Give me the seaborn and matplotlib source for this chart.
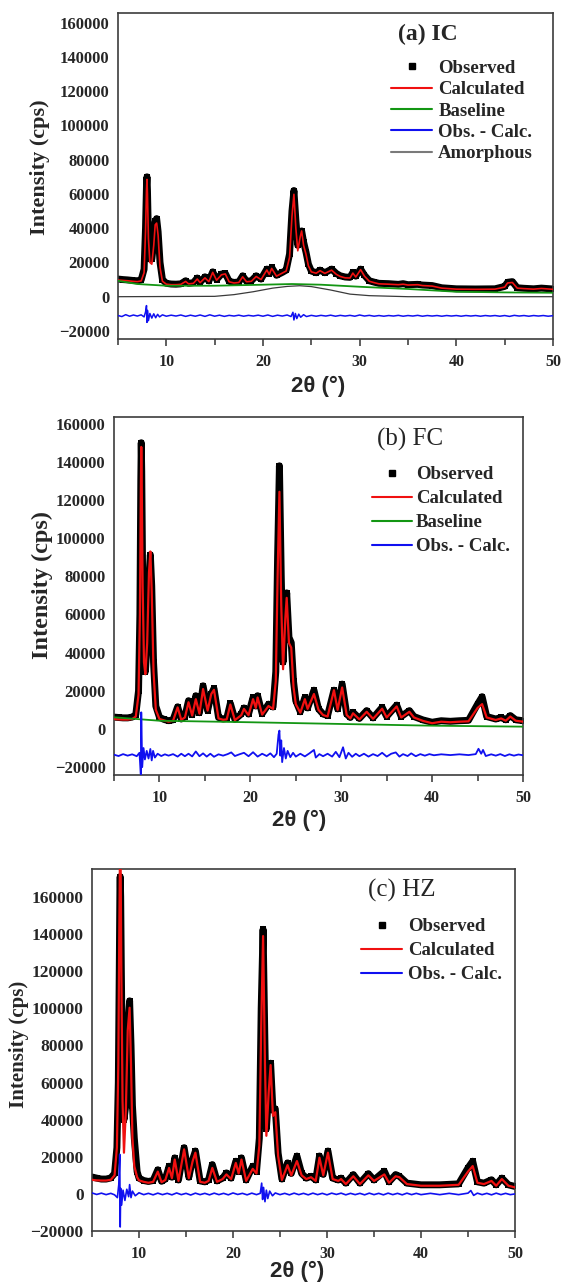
import numpy as np
import seaborn as sns
import matplotlib.pyplot as plt
from matplotlib.lines import Line2D
from matplotlib.ticker import FixedLocator

sns.set_style("ticks")
plt.rcParams['font.family'] = ['Liberation Serif', 'DejaVu Serif']

# ---------------- panel (a) IC ----------------
x_a = [5.0, 5.5, 6.0, 6.5, 7.0, 7.4, 7.7, 7.85, 7.95, 8.0, 8.05, 8.15, 8.3, 8.5, 8.7, 8.85, 9.0,
       9.15, 9.35, 9.6, 10.0, 10.5, 11.0, 11.5, 12.0, 12.3, 12.8, 13.2, 13.5, 14.0, 14.4, 14.8,
       15.2, 15.7, 16.1, 16.5, 17.0, 17.5, 17.9, 18.3, 18.8, 19.3, 19.8, 20.4, 20.65, 20.9, 21.4,
       22.0, 22.4, 22.75, 23.0, 23.2, 23.4, 23.6, 23.85, 24.0, 24.2, 24.45, 24.7, 25.0, 25.5,
       25.9, 26.4, 27.1, 27.6, 28.0, 28.5, 29.0, 29.3, 29.6, 30.1, 30.5, 31.0, 31.5, 32.0, 33.0,
       34.0, 34.5, 35.0, 36.0, 36.5, 37.5, 38.5, 40.0, 42.0, 44.0, 45.0, 45.3, 45.8, 46.3, 47.0,
       48.0, 48.8, 50.0]
obs_a = [10300, 10000, 9800, 9500, 9300, 9800, 16000, 40000, 65000, 70000, 62000, 35000, 22000,
         22000, 32000, 44000, 45600, 38000, 20000, 10000, 7800, 7400, 7300, 7500, 9300, 7800, 8200,
         10900, 8500, 11600, 9200, 14500, 10000, 13200, 13600, 9000, 8300, 8600, 12200, 9000, 9300,
         12200, 10300, 16100, 13500, 17100, 12500, 14200, 15500, 25000, 50000, 62000, 45000, 30000,
         36000, 38400, 32000, 26000, 19000, 15000, 14000, 15500, 14000, 16100, 13500, 12200, 11500,
         11300, 14200, 12000, 16100, 12500, 9300, 8500, 7800, 7600, 7200, 7600, 7000, 7200, 6800,
         6500, 5200, 4600, 4500, 4600, 6000, 8400, 8800, 5200, 4900, 4600, 5000, 4500]
calc_a = [9700, 9500, 9300, 9000, 8800, 9200, 14000, 38000, 62000, 68500, 60000, 34000, 20000,
          19000, 30000, 42000, 43000, 36000, 17000, 9000, 7300, 7000, 7000, 7200, 8900, 7500, 7800,
          10300, 8200, 11000, 8800, 14200, 9600, 12800, 13300, 8700, 8000, 8300, 11600, 8700, 9000,
          11800, 10000, 15600, 13000, 16500, 12000, 13800, 15000, 23000, 47000, 59800, 40000, 26800,
          35000, 38400, 30000, 24800, 18000, 14500, 13700, 15200, 13600, 15500, 13000, 11800, 11000,
          10900, 13800, 11500, 15800, 12000, 9000, 8200, 7500, 7300, 7000, 7300, 6800, 7000, 6500,
          6200, 5000, 4400, 4300, 4400, 5600, 8000, 8300, 5000, 4700, 4400, 4800, 4300]
base_x_a = [5, 7, 10, 15, 20, 23, 26, 30, 35, 40, 45, 50]
base_a = [9300, 7400, 6400, 6400, 7000, 7400, 7000, 5800, 4500, 2900, 2500, 2300]
amor_x_a = [5, 15, 17, 19, 21, 22.5, 23.8, 25, 27, 29, 31, 35, 50]
amor_a = [0, 200, 1200, 2900, 5000, 6000, 6400, 5900, 3900, 1500, 600, 0, 0]
diff_x_a = [5.0, 5.4, 5.8, 6.2, 6.6, 7.0, 7.4, 7.7, 7.85, 7.95, 8.0, 8.05, 8.15, 8.3, 8.5, 8.7,
            8.9, 9.1, 9.3, 9.6, 10.0, 10.5, 11.0, 11.5, 12.0, 12.5, 13.0, 13.5, 14.0, 14.5, 15.0,
            15.5, 16.0, 16.5, 17.0, 17.5, 18.0, 18.5, 19.0, 19.5, 20.0, 20.5, 21.0, 21.5, 22.0,
            22.5, 22.9, 23.1, 23.2, 23.35, 23.5, 23.7, 23.9, 24.2, 24.5, 25.0, 25.5, 26.0, 26.5,
            27.0, 27.5, 28.0, 28.5, 29.0, 29.5, 30.0, 30.5, 31.0, 31.5, 32.0, 32.5, 33.0, 33.5,
            34.0, 34.5, 35.0, 35.5, 36.0, 36.5, 37.0, 37.5, 38.0, 38.5, 39.0, 39.5, 40.0, 40.5,
            41.0, 41.5, 42.0, 42.5, 43.0, 43.5, 44.0, 44.5, 45.0, 45.5, 46.0, 46.5, 47.0, 47.5,
            48.0, 48.5, 49.0, 49.5, 50.0]
diff_a = [-11000, -11600, -10500, -11400, -10700, -11300, -10600, -11800, -9000, -5200, -15000,
          -8000, -14000, -9800, -12500, -10000, -12300, -10300, -11800, -10600, -11400, -10800,
          -11300, -10700, -11500, -10800, -11400, -10700, -11500, -10600, -11400, -10800, -11500,
          -10900, -11300, -10800, -11400, -10900, -11300, -10800, -11400, -10700, -11500, -10800,
          -11300, -10700, -11600, -9100, -13600, -9800, -12800, -10200, -12000, -10500, -11600,
          -10900, -11400, -10900, -11300, -10800, -11400, -10900, -11300, -10900, -11400, -10700,
          -11300, -10900, -11400, -11000, -11400, -11000, -11300, -10900, -11400, -11000, -11300,
          -10900, -11400, -11000, -11300, -11000, -11400, -11000, -11300, -11000, -11400, -11000,
          -11300, -11000, -11400, -11000, -11300, -11000, -11400, -11000, -11500, -10900, -11300,
          -11000, -11400, -11000, -11300, -11000, -11400, -11100]

# ---------------- panel (b) FC ----------------
x_b = [5.0, 5.5, 6.0, 6.5, 7.0, 7.4, 7.7, 7.85, 7.95, 8.0, 8.05, 8.15, 8.3, 8.45, 8.65, 8.85,
       9.0, 9.15, 9.35, 9.6, 10.0, 10.5, 11.0, 11.5, 12.0, 12.4, 12.8, 13.2, 13.6, 14.0, 14.4,
       14.8, 15.3, 15.7, 16.0, 16.5, 17.0, 17.4, 17.8, 18.3, 19.0, 19.3, 19.8, 20.3, 20.6, 20.8,
       21.3, 22.0, 22.5, 22.8, 23.0, 23.2, 23.4, 23.6, 23.85, 24.0, 24.25, 24.5, 24.75, 25.0,
       25.5, 26.0, 26.3, 27.0, 27.5, 28.0, 28.5, 29.2, 29.6, 30.1, 30.6, 31.0, 31.3, 32.0, 32.8,
       33.5, 34.5, 35.0, 36.1, 36.6, 37.5, 38.0, 39.0, 40.0, 41.0, 42.0, 43.0, 44.0, 45.0, 45.5,
       46.0, 47.0, 47.6, 48.1, 48.6, 49.2, 50.0]
obs_b = [6200, 6000, 5800, 5800, 6200, 7500, 20000, 60000, 130000, 150000, 135000, 80000, 40000,
         30000, 45000, 80000, 91300, 75000, 35000, 12000, 6100, 5000, 4300, 4800, 11600, 5200,
         6500, 14800, 7500, 17400, 8500, 22600, 9600, 18300, 21200, 6000, 5200, 5500, 13400, 5000,
         7800, 11000, 7800, 16500, 12000, 17400, 8000, 13000, 11500, 30000, 90000, 137900, 80000,
         35000, 60000, 71300, 48000, 45200, 25000, 14800, 9000, 16500, 11000, 20300, 10500, 7800,
         7000, 20300, 10500, 23500, 7800, 6000, 8700, 5500, 9600, 5800, 11300, 6500, 12500, 6500,
         9600, 6500, 4700, 3500, 4300, 4000, 4300, 4500, 13000, 16900, 6500, 5200, 6000, 4800,
         7000, 4800, 4300]
calc_b = [5200, 5000, 4900, 4900, 5200, 6500, 18000, 60000, 125000, 147800, 130000, 75000, 35000,
          28700, 45000, 82000, 93000, 72000, 30000, 10000, 5200, 4500, 3800, 4300, 11300, 4800,
          6000, 14000, 7000, 15600, 8000, 20900, 9600, 18300, 20500, 5500, 4800, 5000, 12800, 4600,
          7200, 10500, 7200, 15600, 11000, 16500, 7500, 12000, 10500, 25000, 80000, 124300, 65000,
          31300, 58000, 68700, 45000, 42600, 22000, 13000, 8500, 15600, 10500, 18300, 10000, 7300,
          6500, 20300, 10000, 21700, 7300, 5500, 8200, 5000, 9000, 5300, 10600, 6000, 11800, 6000,
          9000, 6000, 4200, 3000, 3800, 3500, 3800, 4000, 11000, 13000, 6000, 4700, 5500, 4300,
          6500, 4300, 3800]
base_x_b = [5, 10, 20, 30, 40, 50]
base_b = [6100, 4300, 3500, 2600, 1700, 1200]
diff_x_b = [5.0, 5.5, 6.0, 6.5, 7.0, 7.5, 7.8, 7.9, 7.95, 8.0, 8.05, 8.1, 8.25, 8.4, 8.6, 8.8,
            9.0, 9.15, 9.3, 9.5, 9.8, 10.2, 10.6, 11.0, 11.5, 12.0, 12.4, 12.8, 13.2, 13.6, 14.0,
            14.4, 14.8, 15.2, 15.6, 16.0, 16.5, 17.0, 17.5, 17.9, 18.3, 18.8, 19.3, 19.8, 20.3,
            20.8, 21.3, 21.8, 22.2, 22.6, 22.9, 23.1, 23.2, 23.3, 23.4, 23.5, 23.7, 23.9, 24.1,
            24.4, 24.7, 25.0, 25.5, 26.0, 26.5, 27.0, 27.2, 27.6, 28.0, 28.5, 29.0, 29.4, 29.8,
            30.2, 30.5, 30.8, 31.2, 31.6, 32.0, 32.5, 33.0, 33.5, 34.0, 34.5, 35.0, 35.5, 36.0,
            36.4, 36.8, 37.3, 37.7, 38.2, 38.7, 39.2, 39.7, 40.2, 41.0, 42.0, 43.0, 44.0, 44.8,
            45.1, 45.4, 45.6, 45.9, 46.5, 47.0, 47.5, 48.0, 48.5, 49.0, 49.5, 50.0]
diff_b = [-13500, -14200, -13200, -14000, -13300, -14300, -12500, -20000, -23800, 8700, -5000,
          -20000, -10000, -16000, -11500, -15500, -10500, -16500, -11500, -15000, -13000, -14200,
          -13300, -14000, -13200, -14500, -13000, -14300, -13000, -14400, -11800, -14300, -12800,
          -14500, -13000, -14600, -13300, -14000, -13200, -12300, -14200, -13300, -12500, -14300,
          -12200, -14500, -13000, -14200, -12800, -14800, -13000, -3000, -870, -14000, -6000,
          -17400, -10000, -15500, -11500, -14800, -12500, -14500, -13000, -14400, -12800, -11000,
          -15000, -13200, -14300, -13000, -14500, -12000, -14800, -9600, -15500, -12500, -14600,
          -13000, -14300, -13000, -14500, -13200, -14200, -12500, -14500, -13000, -12300, -14500,
          -13200, -14200, -12800, -14300, -13200, -14000, -13200, -13800, -13300, -13700, -13300,
          -13700, -13200, -10400, -13000, -11000, -14200, -13300, -14000, -13200, -14200, -13300,
          -14000, -13400, -13800]

# ---------------- panel (c) HZ ----------------
x_c = [5.0, 5.5, 6.0, 6.5, 7.0, 7.4, 7.65, 7.8, 7.9, 7.97, 8.0, 8.05, 8.12, 8.25, 8.4, 8.6, 8.8,
       9.0, 9.15, 9.3, 9.5, 9.8, 10.0, 10.5, 11.0, 11.5, 12.0, 12.4, 12.8, 13.2, 13.5, 13.8, 14.2,
       14.8, 15.3, 15.7, 16.0, 16.5, 17.0, 17.4, 17.8, 18.3, 18.9, 19.3, 19.8, 20.3, 20.6, 20.9,
       21.4, 22.1, 22.5, 22.8, 23.0, 23.2, 23.4, 23.55, 23.8, 24.0, 24.25, 24.5, 24.8, 25.2, 25.8,
       26.2, 26.8, 27.3, 27.8, 28.3, 28.8, 29.2, 29.6, 30.1, 30.6, 31.2, 31.5, 32.0, 32.8, 33.5,
       34.4, 35.0, 36.1, 36.6, 37.3, 37.7, 38.5, 40.0, 42.0, 44.0, 45.0, 45.5, 46.0, 46.7, 47.5,
       48.0, 48.6, 49.3, 50.0]
obs_c = [9100, 8500, 8000, 8000, 8600, 11000, 25000, 60000, 120000, 165000, 170900, 160000,
         120000, 60000, 40000, 48000, 90000, 104000, 80000, 47600, 30000, 12000, 8500, 7200, 6700,
         7200, 13000, 6800, 8000, 14900, 9000, 19400, 7500, 24900, 9000, 18500, 23100, 7000, 6500,
         7500, 15800, 7000, 8500, 11300, 8500, 17600, 12000, 19400, 7500, 14900, 12000, 30000,
         100000, 142500, 80000, 35000, 55000, 70400, 45000, 45800, 22000, 8000, 16700, 11000,
         20400, 11000, 8500, 9500, 7500, 20400, 10500, 23100, 8500, 7500, 8500, 5800, 10400, 5800,
         10900, 7500, 12200, 6500, 10400, 9500, 5800, 4900, 4900, 5400, 14000, 17600, 6500, 5800,
         7600, 4900, 8500, 4900, 4000]
calc_c = [7600, 7300, 7200, 7200, 7600, 10000, 25000, 70000, 140000, 180000, 185000, 175000,
          120000, 50000, 22200, 45000, 88000, 100300, 70000, 30000, 15000, 9000, 7300, 6500, 6000,
          6500, 12000, 6300, 7500, 14000, 8500, 18500, 7000, 24000, 8500, 17500, 22200, 6500, 6000,
          7000, 14000, 6500, 8000, 10500, 8000, 16700, 11000, 18500, 7000, 13500, 11000, 26000,
          90000, 138900, 70000, 31300, 55000, 69400, 42000, 44000, 20400, 7500, 15500, 10000,
          17700, 10000, 8000, 9000, 7000, 19500, 10000, 22200, 8000, 7000, 8000, 5300, 9500, 5300,
          10000, 7000, 10500, 6000, 9500, 9000, 5300, 4400, 4400, 4900, 12000, 15000, 6000, 5300,
          7000, 4400, 8000, 4400, 3500]
diff_x_c = [5.0, 5.5, 6.0, 6.5, 7.0, 7.4, 7.7, 7.85, 7.95, 8.0, 8.05, 8.15, 8.3, 8.5, 8.7, 8.9,
            9.0, 9.15, 9.3, 9.6, 10.0, 10.5, 11.0, 11.5, 12.0, 12.5, 13.0, 13.5, 14.0, 14.5, 15.0,
            15.5, 16.0, 16.5, 17.0, 17.5, 18.0, 18.5, 19.0, 19.5, 20.0, 20.5, 21.0, 21.5, 22.0,
            22.5, 22.9, 23.05, 23.15, 23.25, 23.4, 23.55, 23.7, 23.9, 24.2, 24.5, 25.0, 25.5, 26.0,
            26.5, 27.0, 27.5, 28.0, 28.5, 29.0, 29.5, 30.0, 30.5, 31.0, 31.5, 32.0, 32.5, 33.0,
            33.5, 34.0, 34.5, 35.0, 35.5, 36.0, 36.5, 37.0, 37.5, 38.0, 38.5, 39.0, 39.5, 40.0,
            41.0, 42.0, 43.0, 44.0, 45.0, 45.3, 45.6, 46.0, 46.5, 47.0, 47.5, 48.0, 48.5, 49.0,
            49.5, 50.0]
diff_c = [500, -300, 400, -400, 300, -500, -2000, 5000, 21300, -17800, 3000, -6000, 2000, -3500,
          2500, -1500, 5000, -2000, 1500, -1000, 600, -400, 300, -500, 400, -400, 300, -500, 500,
          -400, 300, -600, 400, -400, 300, -500, 400, -400, 300, -500, 500, -300, 300, -500, 400,
          -400, 300, 5800, -3000, 3500, -4200, 2000, -2500, 1500, -1000, 500, -400, 300, -500, 400,
          -400, 300, -500, 400, -400, 300, -500, 400, -300, 400, -500, 300, -400, 300, -500, 400,
          -400, 300, -500, 400, -400, 300, -500, 400, -400, 300, -400, 300, -400, 300, -400, 400,
          1800, -800, 400, -400, 300, -500, 400, -400, 300, -400, 0]

y_ticks = [-20000, 0, 20000, 40000, 60000, 80000, 100000, 120000, 140000, 160000]
x_ticks = [10, 20, 30, 40, 50]

RED = '#f01010'
GREEN = '#139613'
BLUE = '#1010f0'
GREY = '#3a3a3a'

fig = plt.figure(figsize=(5.61, 12.85), dpi=100)
ax_a = fig.add_axes([0.2103, 0.7362, 0.7754, 0.2537])
ax_b = fig.add_axes([0.2032, 0.3971, 0.7291, 0.2784])
ax_c = fig.add_axes([0.1640, 0.0420, 0.7540, 0.2817])


def style_axis(ax, ylim, ytick_size, xlab_pos, ylab_pos, ylab_size):
    ax.set_xlim(5, 50)
    ax.set_ylim(*ylim)
    ax.yaxis.set_major_locator(FixedLocator(y_ticks))
    ax.xaxis.set_major_locator(FixedLocator(x_ticks))
    ax.xaxis.set_minor_locator(FixedLocator([5, 15, 25, 35, 45]))
    ax.tick_params(axis='y', length=0, pad=6, labelsize=ytick_size)
    ax.tick_params(axis='x', which='major', direction='out', length=5, width=1.1,
                   pad=6, labelsize=11.5, color='#333333')
    ax.tick_params(axis='x', which='minor', direction='out', length=4, width=1.1,
                   color='#333333')
    for lab in ax.get_xticklabels() + ax.get_yticklabels():
        lab.set_fontweight('bold')
    for sp in ax.spines.values():
        sp.set_visible(True)
        sp.set_linewidth(1.2)
        sp.set_color('#3c3c3c')
    ax.set_xlabel('2θ (°)', family=['Liberation Sans', 'DejaVu Sans'],
                  fontweight='bold', fontsize=16)
    ax.xaxis.set_label_coords(*xlab_pos)
    ax.xaxis.label.set_va('center')
    ax.set_ylabel('Intensity (cps)', fontweight='bold', fontsize=ylab_size)
    ax.yaxis.set_label_coords(*ylab_pos)
    ax.yaxis.label.set_va('center')


def draw_obs_calc(ax, x, obs, calc, calc_lw):
    sns.lineplot(x=x, y=obs, ax=ax, color='black', lw=5, marker='s', markersize=5,
                 markeredgewidth=0, errorbar=None, zorder=2)
    sns.lineplot(x=x, y=calc, ax=ax, color=RED, lw=calc_lw, errorbar=None, zorder=3)


# (a)
draw_obs_calc(ax_a, x_a, obs_a, calc_a, 1.2)
sns.lineplot(x=base_x_a, y=base_a, ax=ax_a, color=GREEN, lw=1.3, errorbar=None, zorder=4)
sns.lineplot(x=amor_x_a, y=amor_a, ax=ax_a, color=GREY, lw=0.9, errorbar=None, zorder=4)
sns.lineplot(x=diff_x_a, y=diff_a, ax=ax_a, color=BLUE, lw=1.1, errorbar=None, zorder=4)
style_axis(ax_a, (-24700, 165700), 12, (0.46, -0.147), (-0.179, 0.526), 16)

# (b)
draw_obs_calc(ax_b, x_b, obs_b, calc_b, 1.6)
sns.lineplot(x=base_x_b, y=base_b, ax=ax_b, color=GREEN, lw=1.3, errorbar=None, zorder=4)
sns.lineplot(x=diff_x_b, y=diff_b, ax=ax_b, color=BLUE, lw=1.3, errorbar=None, zorder=4)
style_axis(ax_b, (-24000, 163500), 12, (0.452, -0.1266), (-0.174, 0.529), 17.5)

# (c)
draw_obs_calc(ax_c, x_c, obs_c, calc_c, 1.6)
sns.lineplot(x=diff_x_c, y=diff_c, ax=ax_c, color=BLUE, lw=1.2, errorbar=None, zorder=4)
style_axis(ax_c, (-20000, 175000), 12.5, (0.485, -0.113), (-0.173, 0.517), 15)

# titles
ax_a.text(0.713, 0.933, '(a) IC', transform=ax_a.transAxes, ha='center', va='center',
          fontsize=17, fontweight='bold')
ax_b.text(0.724, 0.9385, '(b) FC', transform=ax_b.transAxes, ha='center', va='center',
          fontsize=18)
ax_c.text(0.733, 0.942, '(c) HZ', transform=ax_c.transAxes, ha='center', va='center',
          fontsize=18)

# legends
h_obs = Line2D([], [], ls='none', marker='s', color='black', markersize=5)
h_calc = Line2D([], [], color=RED, lw=1.5)
h_base = Line2D([], [], color=GREEN, lw=1.5)
h_diff = Line2D([], [], color=BLUE, lw=1.5)
h_amor = Line2D([], [], color='#7a7a7a', lw=1.5)

leg_kw = dict(frameon=False, borderpad=0, borderaxespad=0, loc='upper left',
              prop={'weight': 'bold', 'size': 13.5})
ax_a.legend([h_obs, h_calc, h_base, h_diff, h_amor],
            ['Observed', 'Calculated', 'Baseline', 'Obs. - Calc.', 'Amorphous'],
            bbox_to_anchor=(0.628, 0.857), handlelength=2.19, handletextpad=0.32,
            labelspacing=0.23, **leg_kw)
ax_b.legend([h_obs, h_calc, h_base, h_diff],
            ['Observed', 'Calculated', 'Baseline', 'Obs. - Calc.'],
            bbox_to_anchor=(0.631, 0.862), handlelength=2.13, handletextpad=0.21,
            labelspacing=0.36, **leg_kw)
ax_c.legend([h_obs, h_calc, h_diff],
            ['Observed', 'Calculated', 'Obs. - Calc.'],
            bbox_to_anchor=(0.636, 0.864), handlelength=2.2, handletextpad=0.29,
            labelspacing=0.36, **leg_kw)

fig.savefig('out.png', dpi=100)
